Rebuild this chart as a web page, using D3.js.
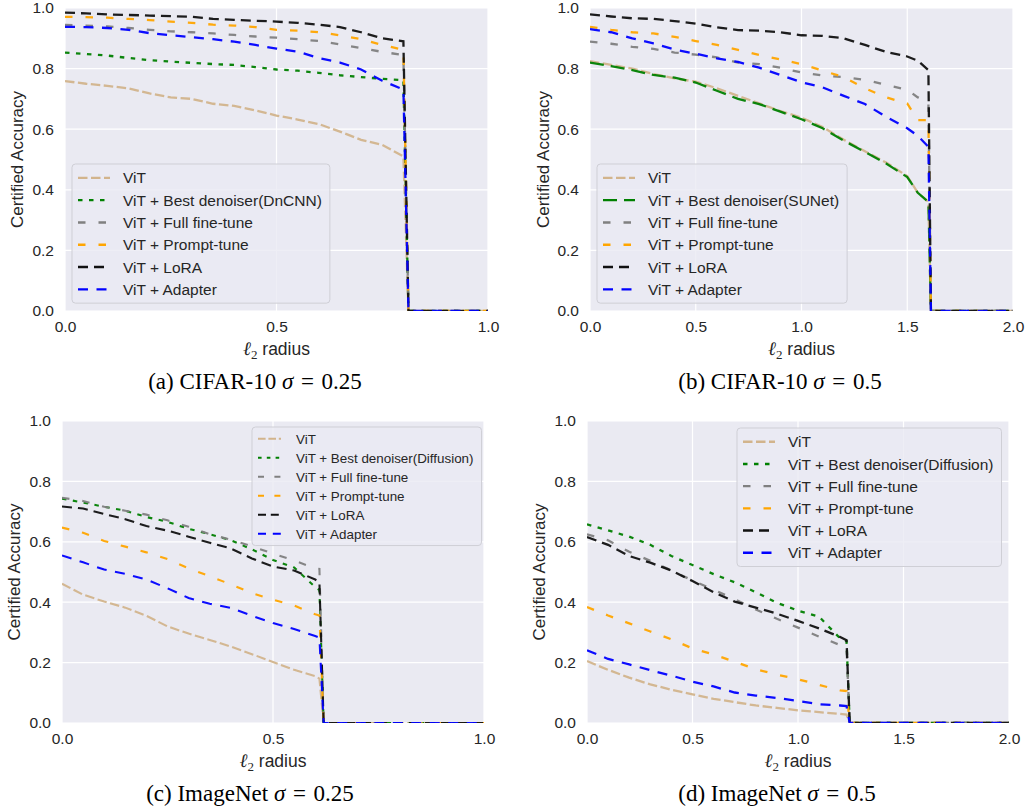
<!DOCTYPE html>
<html>
<head>
<meta charset="utf-8">
<script src="https://cdn.jsdelivr.net/npm/d3@7"></script>
<style>
  body { margin: 0; background: #fff; }
  svg { display: block; }
  text { fill: #262626; }
</style>
</head>
<body>
<svg width="1026" height="811"></svg>
<script>
// ---- data ----
const seriesNames = ['ViT', 'ViT + Best denoiser', 'ViT + Full fine-tune', 'ViT + Prompt-tune', 'ViT + LoRA', 'ViT + Adapter'];
const denoisers = ['DnCNN', 'SUNet', 'Diffusion', 'Diffusion'];

// (a) CIFAR-10 sigma = 0.25
const radiiA   = [0, 0.05, 0.1, 0.15, 0.2, 0.25, 0.3, 0.35, 0.4, 0.45, 0.5, 0.55, 0.6, 0.65, 0.7, 0.75, 0.8];
const vitA     = [.759, .75, .743, .735, .718, .705, .70, .684, .677, .662, .645, .632, .617, .592, .565, .548, .51];
const denA     = [.853, .848, .843, .835, .828, .823, .819, .815, .812, .805, .797, .793, .786, .778, .772, .766, .762];
const fullA    = [.944, .942, .939, .934, .928, .923, .92, .916, .911, .906, .902, .897, .891, .88, .868, .855, .845];
const promptA  = [.971, .97, .968, .964, .96, .955, .951, .945, .942, .937, .928, .925, .92, .91, .897, .878, .862];
const loraA    = [.985, .982, .979, .977, .975, .973, .971, .964, .961, .958, .955, .951, .945, .937, .92, .90, .89];
const adapterA = [.938, .937, .934, .928, .917, .91, .904, .897, .889, .878, .866, .856, .835, .82, .797, .76, .731];

// (b) CIFAR-10 sigma = 0.5
const radiiB   = [0, 0.1, 0.2, 0.3, 0.4, 0.5, 0.6, 0.7, 0.8, 0.9, 1.0, 1.1, 1.2, 1.3, 1.4, 1.5, 1.55, 1.6];
const vitB     = [.825, .812, .80, .782, .768, .757, .735, .71, .685, .66, .638, .607, .565, .527, .49, .445, .39, .36];
const denB     = [.82, .808, .795, .779, .77, .754, .727, .70, .683, .658, .633, .603, .562, .525, .487, .442, .39, .36];
const fullB    = [.889, .882, .872, .865, .853, .846, .837, .82, .815, .803, .787, .777, .772, .763, .746, .73, .705, .69];
const promptB  = [.938, .928, .92, .916, .905, .891, .878, .862, .845, .83, .815, .793, .772, .735, .705, .685, .63, .63];
const loraB    = [.979, .972, .966, .964, .957, .948, .936, .927, .925, .92, .91, .908, .90, .878, .855, .84, .826, .795];
const adapterB = [.93, .92, .90, .883, .863, .849, .834, .822, .803, .779, .755, .738, .71, .683, .641, .603, .578, .542];

// (c) ImageNet sigma = 0.25
const radiiC   = [0, 0.05, 0.1, 0.15, 0.2, 0.25, 0.3, 0.35, 0.4, 0.45, 0.5, 0.55, 0.6, 0.61];
const vitC     = [.461, .425, .402, .382, .355, .32, .296, .275, .253, .228, .202, .176, .155, .147];
const denC     = [.743, .73, .716, .703, .682, .666, .643, .625, .605, .575, .54, .515, .45, .44];
const fullC    = [.746, .735, .716, .703, .69, .671, .65, .625, .607, .585, .561, .538, .512, .51];
const promptC  = [.647, .63, .603, .584, .565, .543, .512, .486, .459, .43, .408, .389, .36, .356];
const loraC    = [.717, .71, .692, .675, .652, .637, .617, .597, .578, .545, .518, .505, .475, .467];
const adapterC = [.555, .532, .508, .494, .475, .446, .414, .395, .381, .355, .331, .311, .288, .283];

// (d) ImageNet sigma = 0.5
const radiiD   = [0, 0.1, 0.2, 0.3, 0.4, 0.5, 0.6, 0.7, 0.8, 0.9, 1.0, 1.1, 1.2, 1.23];
const vitD     = [.205, .176, .15, .128, .11, .095, .08, .069, .058, .05, .042, .036, .03, .028];
const denD     = [.658, .638, .617, .59, .553, .523, .493, .466, .433, .398, .372, .352, .28, .272];
const fullD    = [.625, .605, .567, .537, .505, .472, .441, .41, .376, .345, .316, .286, .258, .25];
const promptD  = [.384, .356, .33, .303, .277, .247, .227, .203, .178, .16, .145, .126, .108, .106];
const loraD    = [.616, .59, .553, .531, .505, .47, .433, .402, .382, .362, .338, .313, .285, .274];
const adapterD = [.241, .212, .194, .175, .157, .137, .121, .101, .091, .083, .073, .062, .058, .056];

const dropRadius = [0.812, 1.612, 0.62, 1.245];
const xMaxes = [1.0, 2.0, 1.0, 2.0];
const xTickVals = [[0, 0.5, 1.0], [0, 0.5, 1.0, 1.5, 2.0], [0, 0.5, 1.0], [0, 0.5, 1.0, 1.5, 2.0]];
const yTickVals = [0, 0.2, 0.4, 0.6, 0.8, 1.0];
const captions = [['(a) CIFAR-10 ', '0.25'], ['(b) CIFAR-10 ', '0.5'], ['(c) ImageNet ', '0.25'], ['(d) ImageNet ', '0.5']];

// ---- styling ----
const colors = ['#d2b48c', '#008000', '#808080', '#ffa500', '#111111', '#0000ff'];
const dashes = [[9.5, 3.5], [4.5, 6.5], [7.5, 13], [7.5, 13], [10, 6], [10, 8.5]];
const sunetDash = [14, 7];

const panels = [
  { radii: radiiA, series: [vitA, denA, fullA, promptA, loraA, adapterA], scale: 1,
    box: [65, 488, 8, 311], legend: { x: 72, y: 164, row: 22.3, font: 15.5, sample: 32, textGap: 13 }, ylabX: 17, capX: 255 },
  { radii: radiiB, series: [vitB, denB, fullB, promptB, loraB, adapterB], scale: 1, sunet: true,
    box: [590, 1013, 8, 311], legend: { x: 597, y: 164, row: 22.3, font: 15.5, sample: 32, textGap: 13 }, ylabX: 543, capX: 780 },
  { radii: radiiC, series: [vitC, denC, fullC, promptC, loraC, adapterC], scale: 0.8,
    box: [62, 484, 421, 723], legend: { x: 252, y: 427, row: 19, font: 13.4, sample: 23, textGap: 15 }, ylabX: 14, capX: 250 },
  { radii: radiiD, series: [vitD, denD, fullD, promptD, loraD, adapterD], scale: 1,
    box: [587, 1009, 421, 723], legend: { x: 737, y: 428, row: 22.2, font: 15.5, sample: 32, textGap: 13 }, ylabX: 539, capX: 777 }
];

const svg = d3.select('svg');
const sans = 'Liberation Sans, Arial, sans-serif';
const serif = 'Liberation Serif, Times New Roman, serif';

function dashFor(p, k, legendScale) {
  const base = (k === 1 && p.sunet) ? sunetDash : dashes[k];
  return base.map(v => v * legendScale).join(',');
}

panels.forEach((p, i) => {
  const [x0, x1, y0, y1] = p.box;
  const x = d3.scaleLinear().domain([0, xMaxes[i]]).range([x0, x1]);
  const y = d3.scaleLinear().domain([0, 1]).range([y1, y0]);

  const g = svg.append('g');

  g.append('rect')
    .attr('x', x0).attr('y', y0)
    .attr('width', x1 - x0).attr('height', y1 - y0)
    .attr('fill', '#eaeaf2');

  g.append('clipPath').attr('id', 'clip' + i)
    .append('rect')
    .attr('x', x0).attr('y', y0)
    .attr('width', x1 - x0).attr('height', y1 - y0);

  // grid
  g.selectAll('.vgrid').data(xTickVals[i]).enter().append('line')
    .attr('x1', d => x(d)).attr('x2', d => x(d))
    .attr('y1', y0).attr('y2', y1)
    .attr('stroke', '#fff').attr('stroke-width', 1.2);
  g.selectAll('.hgrid').data(yTickVals).enter().append('line')
    .attr('x1', x0).attr('x2', x1)
    .attr('y1', d => y(d)).attr('y2', d => y(d))
    .attr('stroke', '#fff').attr('stroke-width', 1.2);

  // axes (labels only, seaborn darkgrid style)
  const xAxis = g.append('g')
    .attr('transform', `translate(0,${y1})`)
    .call(d3.axisBottom(x).tickValues(xTickVals[i]).tickFormat(d3.format('.1f')).tickSize(0).tickPadding(10));
  const yAxis = g.append('g')
    .attr('transform', `translate(${x0},0)`)
    .call(d3.axisLeft(y).tickValues(yTickVals).tickFormat(d3.format('.1f')).tickSize(0).tickPadding(11));
  [xAxis, yAxis].forEach(a => {
    a.select('.domain').remove();
    a.selectAll('text').attr('font-family', sans).attr('font-size', 15.5).attr('fill', '#262626');
  });

  // curves
  const line = d3.line().x(d => x(d[0])).y(d => y(d[1]));
  const curves = g.append('g').attr('clip-path', `url(#clip${i})`);
  p.series.forEach((vals, k) => {
    const pts = p.radii.map((r, j) => [r, vals[j]]);
    pts.push([dropRadius[i], 0], [xMaxes[i], 0]);
    curves.append('path')
      .attr('d', line(pts))
      .attr('fill', 'none')
      .attr('stroke', colors[k])
      .attr('stroke-width', i === 2 ? 2.1 : 2.3)
      .attr('stroke-dasharray', dashFor(p, k, 1))
      .attr('opacity', 0.95);
  });

  // legend
  const L = p.legend;
  const lg = g.append('g');
  const frame = lg.append('rect')
    .attr('x', L.x).attr('y', L.y)
    .attr('rx', 3.5).attr('ry', 3.5)
    .attr('fill', '#eaeaf2').attr('fill-opacity', 0.8)
    .attr('stroke', '#cfcfd6').attr('stroke-width', 1);
  let maxW = 0;
  seriesNames.forEach((name, k) => {
    const cy = L.y + L.row * 0.62 + k * L.row;
    const sx = L.x + 6;
    lg.append('line')
      .attr('x1', sx).attr('x2', sx + L.sample)
      .attr('y1', cy).attr('y2', cy)
      .attr('stroke', colors[k])
      .attr('stroke-width', i === 2 ? 2.1 : 2.4)
      .attr('stroke-dasharray', dashFor(p, k, p.scale));
    const label = k === 1 ? `${name}(${denoisers[i]})` : name;
    const t = lg.append('text')
      .attr('x', sx + L.sample + L.textGap)
      .attr('y', cy)
      .attr('dy', '0.36em')
      .attr('font-family', sans)
      .attr('font-size', L.font)
      .text(label);
    maxW = Math.max(maxW, t.node().getComputedTextLength());
  });
  frame
    .attr('width', 6 + L.sample + L.textGap + maxW + 8)
    .attr('height', L.row * 6 + L.row * 0.24);

  // y label
  g.append('text')
    .attr('transform', `translate(${p.ylabX},${(y0 + y1) / 2}) rotate(-90)`)
    .attr('text-anchor', 'middle')
    .attr('dy', '0.36em')
    .attr('font-family', sans)
    .attr('font-size', 17)
    .text('Certified Accuracy');

  // x label: l2 radius
  const xl = g.append('text')
    .attr('x', (x0 + x1) / 2)
    .attr('y', y1 + 44)
    .attr('text-anchor', 'middle')
    .attr('font-family', sans)
    .attr('font-size', 17.5);
  xl.append('tspan').attr('font-family', serif).attr('font-style', 'italic').attr('font-size', 19).text('ℓ');
  xl.append('tspan').attr('font-family', serif).attr('font-size', 13).attr('dy', 4).text('2');
  xl.append('tspan').attr('dy', -4).text(' radius');

  // caption
  const cap = g.append('text')
    .attr('x', p.capX)
    .attr('y', y1 + 78)
    .attr('text-anchor', 'middle')
    .attr('font-family', serif)
    .attr('font-size', 23)
    .attr('fill', '#000');
  cap.append('tspan').attr('fill', '#000').text(captions[i][0]);
  cap.append('tspan').attr('fill', '#000').attr('font-style', 'italic').text('σ');
  cap.append('tspan').attr('fill', '#000').text('\u2004=\u2004' + captions[i][1]);
});
</script>
</body>
</html>
